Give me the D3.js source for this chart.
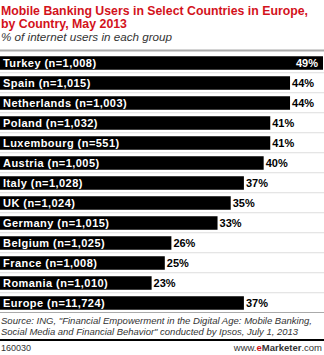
<!DOCTYPE html>
<html><head><meta charset="utf-8">
<script src="https://cdn.jsdelivr.net/npm/d3@7"></script>
<style>body{margin:0;background:#fff}svg{display:block}text{font-family:"Liberation Sans",Arial,sans-serif}</style>
</head><body>
<script>
const categories = ["Turkey (n=1,008)","Spain (n=1,015)","Netherlands (n=1,003)","Poland (n=1,032)","Luxembourg (n=551)","Austria (n=1,005)","Italy (n=1,028)","UK (n=1,024)","Germany (n=1,015)","Belgium (n=1,025)","France (n=1,008)","Romania (n=1,010)","Europe (n=11,724)"];
const values = [49,44,44,41,41,40,37,35,33,26,25,23,37];
const valueLabels = ["49%","44%","44%","41%","41%","40%","37%","35%","33%","26%","25%","23%","37%"];
const titleLines = ["Mobile Banking Users in Select Countries in Europe,","by Country, May 2013"];
const subtitle = "% of internet users in each group";
const sourceLines = ["Source: ING, \"Financial Empowerment in the Digital Age: Mobile Banking,","Social Media and Financial Behavior\" conducted by Ipsos, July 1, 2013"];
const chartId = "160030";

const W = 324, H = 355;
const svg = d3.select("body").append("svg").attr("width", W).attr("height", H);

const titleWidths = [307, 126];
svg.selectAll("text.title").data(titleLines).join("text")
  .attr("x", 1).attr("y", (d,i) => 14.5 + i*13)
  .attr("font-size", 12.4).attr("font-weight", "bold").attr("fill", "#d3121b")
  .attr("textLength", (d,i) => titleWidths[i]).attr("lengthAdjust", "spacingAndGlyphs")
  .text(d => d);
svg.append("text").attr("x", 1).attr("y", 41).attr("font-size", 11.6)
  .attr("font-style", "italic").attr("fill", "#333")
  .attr("textLength", 171).attr("lengthAdjust", "spacingAndGlyphs").text(subtitle);
svg.append("rect").attr("x", 0).attr("y", 49.5).attr("width", W).attr("height", 2).attr("fill", "#aaa");

const x = d3.scaleLinear().domain([0, 49]).range([0, 323]);
const y = d3.scaleBand().domain(categories).range([53, 313]).paddingInner(0.325).paddingOuter(0.1625);

const g = svg.append("g");
g.selectAll("line.sep").data(categories.slice(1)).join("line")
  .attr("x1", 0).attr("x2", W)
  .attr("y1", d => y(d) - 3.5).attr("y2", d => y(d) - 3.5)
  .attr("stroke", "#ddd").attr("stroke-width", 1);
g.selectAll("rect.bar").data(categories).join("rect")
  .attr("x", 0).attr("y", d => y(d))
  .attr("width", (d,i) => x(values[i])).attr("height", y.bandwidth())
  .attr("fill", "#000");
g.selectAll("text.cat").data(categories).join("text")
  .attr("x", 3).attr("y", d => y(d) + y.bandwidth()/2 + 4)
  .attr("font-size", 11).attr("font-weight", "bold").attr("fill", "#fff")
  .attr("letter-spacing", 0.45)
  .text(d => d);
g.selectAll("text.val").data(categories).join("text")
  .attr("x", (d,i) => i === 0 ? x(values[i]) - 5 : x(values[i]) + 2)
  .attr("text-anchor", (d,i) => i === 0 ? "end" : "start")
  .attr("y", d => y(d) + y.bandwidth()/2 + 4)
  .attr("font-size", 11).attr("font-weight", "bold")
  .attr("fill", (d,i) => i === 0 ? "#fff" : "#000")
  .text((d,i) => valueLabels[i]);

svg.append("rect").attr("x", 0).attr("y", 312).attr("width", W).attr("height", 1).attr("fill", "#aaa");
const srcWidths = [311, 297];
svg.selectAll("text.src").data(sourceLines).join("text")
  .attr("x", 1).attr("y", (d,i) => 323.5 + i*11)
  .attr("font-size", 9.6).attr("font-style", "italic").attr("fill", "#333")
  .attr("textLength", (d,i) => srcWidths[i]).attr("lengthAdjust", "spacingAndGlyphs")
  .text(d => d);
svg.append("rect").attr("x", 0).attr("y", 339).attr("width", W).attr("height", 2).attr("fill", "#000");
svg.append("text").attr("x", 1).attr("y", 351).attr("font-size", 9).attr("fill", "#333").text(chartId);
const em = svg.append("text").attr("x", 322).attr("y", 351).attr("font-size", 9.5).attr("text-anchor", "end").attr("fill", "#333");
em.append("tspan").text("www.");
em.append("tspan").attr("fill", "#d3121b").attr("font-weight", "bold").text("e");
em.append("tspan").attr("font-weight", "bold").text("Marketer");
em.append("tspan").text(".com");
</script>
</body></html>
